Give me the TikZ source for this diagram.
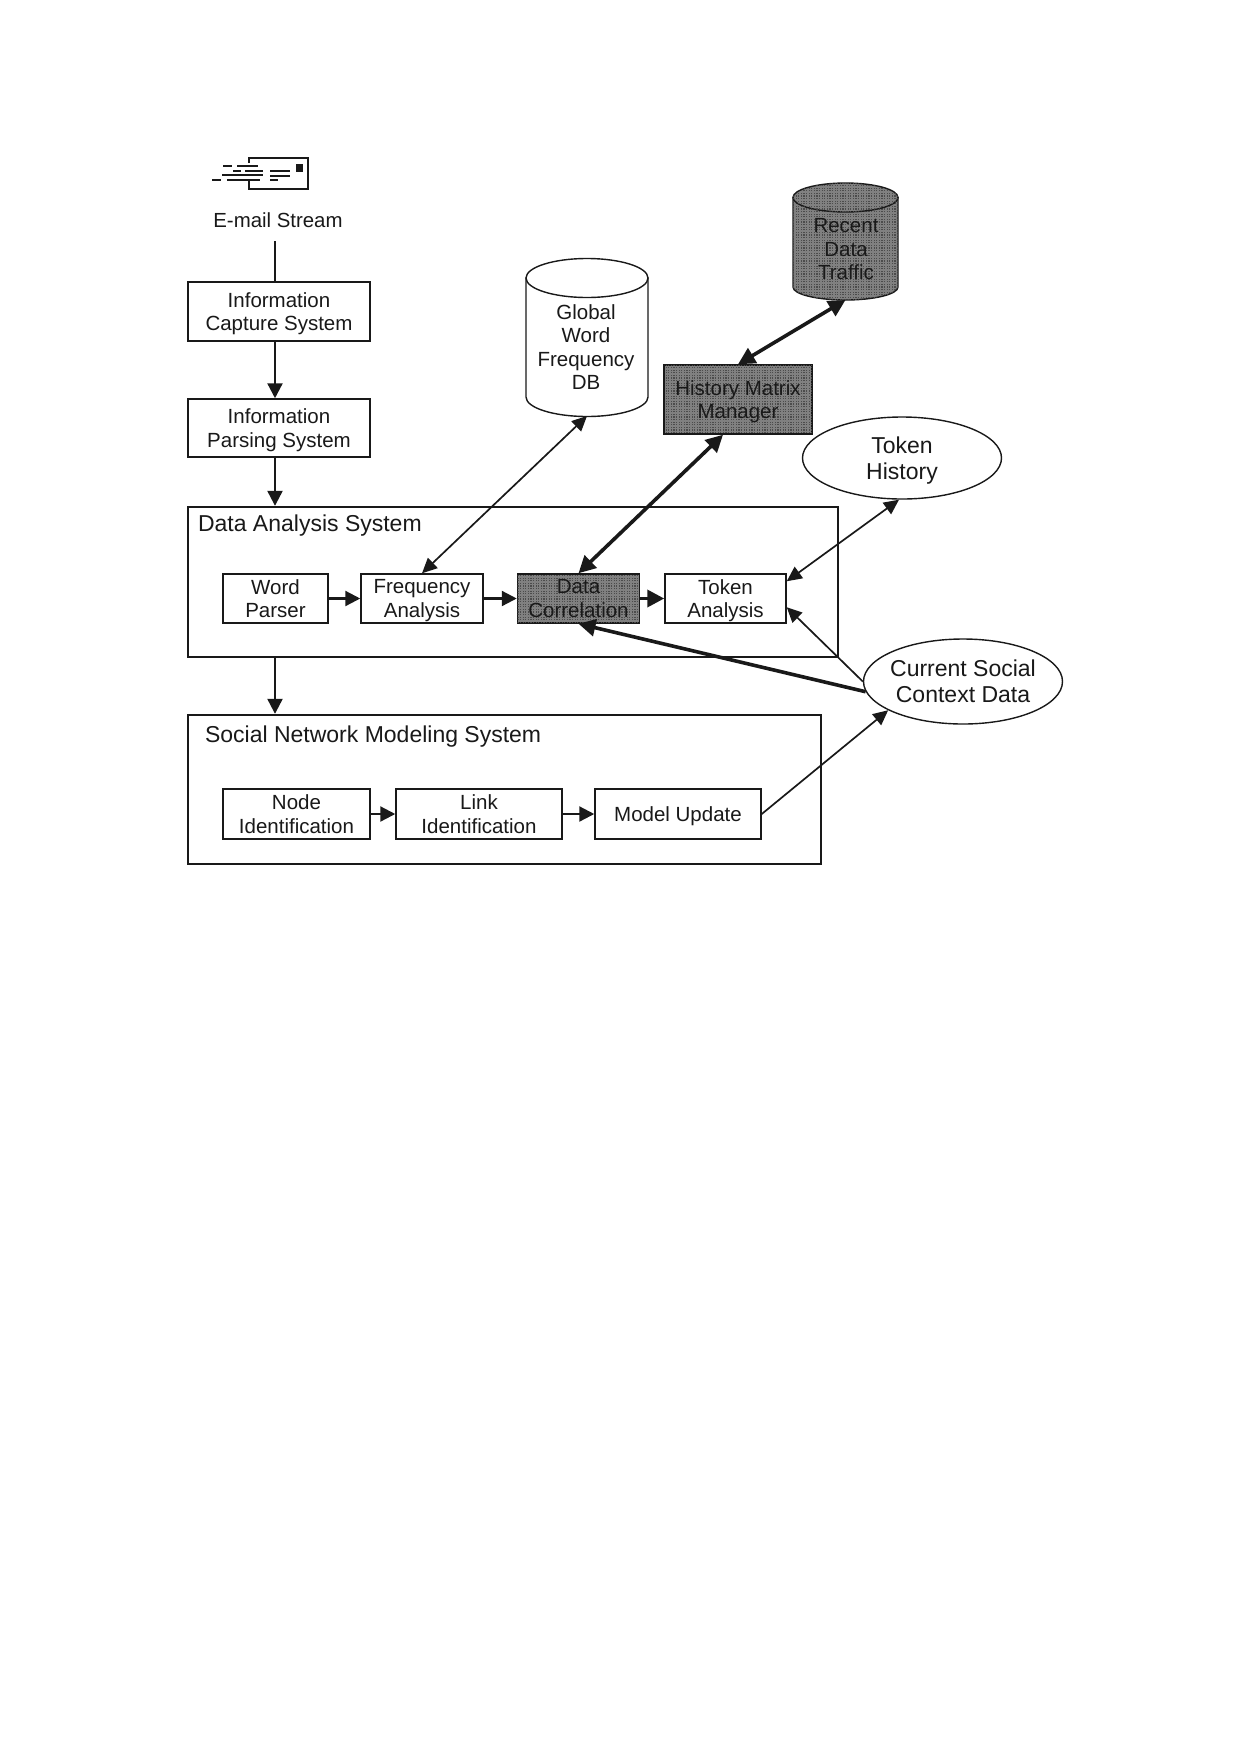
\documentclass[tikz,border=0pt]{standalone}
\usepackage{fontspec}
\setmainfont{Liberation Sans}
\usetikzlibrary{shapes.geometric,arrows.meta,patterns}
\definecolor{ink}{gray}{0.1}
\definecolor{shade}{gray}{0.5}
\pgfdeclarepatternformonly{ditherdots}{\pgfqpoint{-0.5pt}{-0.5pt}}{\pgfqpoint{3pt}{3pt}}{\pgfqpoint{2.6pt}{2.6pt}}{%
  \pgfpathrectangle{\pgfqpoint{0pt}{0pt}}{\pgfqpoint{1.1pt}{1.1pt}}\pgfusepath{fill}}
\tikzset{
  labeltext/.style={font=\fontsize{20.5}{23.5}\selectfont,text=ink,align=center,text depth=0pt},
  bigtext/.style={font=\fontsize{23}{26}\selectfont,text=ink,align=center,text depth=0pt},
  plainbox/.style={draw=ink,line width=1.5pt,fill=white,labeltext,inner sep=0pt},
  darkbox/.style={plainbox,fill=shade,postaction={pattern=ditherdots,pattern color=black!70}},
  framebox/.style={draw=ink,line width=2.4pt,inner sep=0pt},
  blob/.style={ellipse,draw=ink,line width=1.4pt,fill=white,inner sep=0pt},
  drumfootprint/.style={rectangle,inner sep=0pt,outer sep=0pt},
  drumline/.style={draw=ink,line width=1.4pt},
  darkdrum/.style={drumline,fill=shade,postaction={pattern=ditherdots,pattern color=black!70}},
  thin arrow/.style={draw=ink,line width=1.7pt,-{Triangle[length=15pt,width=14pt]}},
  flow arrow/.style={draw=ink,line width=2.3pt,-{Triangle[length=15pt,width=15pt]}},
  both thin/.style={draw=ink,line width=1.7pt,{Triangle[length=15pt,width=14pt]}-{Triangle[length=15pt,width=14pt]}},
  heavy arrow/.style={draw=ink,line width=3.6pt,-{Triangle[length=17pt,width=17pt]}},
  both heavy/.style={draw=ink,line width=3.6pt,{Triangle[length=17pt,width=17pt]}-{Triangle[length=17pt,width=17pt]}},
  mail/.style={draw=ink,line width=1.8pt},
}
\begin{document}
\begin{tikzpicture}[x=1pt,y=-1pt]
\useasboundingbox (0,0) rectangle (1241,1754);

% enclosing system frames
\node[framebox,minimum width=650pt,minimum height=150pt] (analysis) at (513,582) {};
\node[framebox,minimum width=633pt,minimum height=149pt] (social) at (504.5,789.5) {};
\node[bigtext,anchor=west] (analysistitle) at (194.5,523) {Data Analysis System};
\node[bigtext,anchor=west] (socialtitle) at (201.5,734) {Social Network Modeling System};

% e-mail icon
\draw[mail,line width=2pt] (249,163) -- (249,158) -- (308,158) -- (308,189) -- (249,189) -- (249,181);
\fill[ink] (296,164) rectangle (303,172);
\foreach \ya/\xa/\xb in {166/223/232,166/237/258,171/233/241,171/245/263,175/222/263,180/212/221,180/227/260,171/270/290,176/270/290,180/270/278}
  \draw[mail] (\xa,\ya) -- (\xb,\ya);
\node[labeltext,font=\fontsize{20.4}{23}\selectfont] (stream) at (278,220) {E-mail Stream};
\coordinate (streamfoot) at (275,241);

% pipeline boxes
\node[plainbox,minimum width=182pt,minimum height=59pt] (capture) at (279,311.5) {Information\\Capture System};
\node[plainbox,minimum width=182pt,minimum height=58pt] (parsing) at (279,428) {Information\\Parsing System};
\node[plainbox,minimum width=105pt,minimum height=49pt] (word) at (275.5,598.5) {Word\\Parser};
\node[plainbox,minimum width=122pt,minimum height=49pt] (freq) at (422,598.5) {Frequency\\Analysis};
\node[darkbox,minimum width=122pt,minimum height=49pt] (corr) at (578.5,598.5) {};
\node[labeltext] (corrlabel) at (corr.center) {Data\\Correlation};
\node[plainbox,minimum width=121pt,minimum height=49pt] (token) at (725.5,598.5) {Token\\Analysis};
\node[plainbox,minimum width=147pt,minimum height=50pt] (nodeid) at (296.5,814) {Node\\Identification};
\node[plainbox,minimum width=166pt,minimum height=50pt] (linkid) at (479,814) {Link\\Identification};
\node[plainbox,minimum width=166pt,minimum height=50pt] (update) at (678,814) {Model Update};
\node[darkbox,minimum width=148pt,minimum height=69pt] (history) at (738,399.5) {};
\node[labeltext] (historylabel) at (history.center) {History Matrix\\Manager};

% data stores: a footprint node for connectors, then body and lid
\node[drumfootprint,minimum width=122pt,minimum height=158pt] (global) at (587,337) {};
\draw[drumline,fill=white] (526,278) -- (526,397) arc[start angle=180,end angle=360,x radius=61pt,y radius=19.5pt] -- (648,278) -- cycle;
\draw[drumline,fill=white] (587,278) ellipse[x radius=61pt,y radius=19.5pt];
\node[labeltext] (globallabel) at (586,347) {Global\\Word\\Frequency\\DB};

\node[drumfootprint,minimum width=105pt,minimum height=117pt] (recent) at (845.5,241.5) {};
\draw[darkdrum] (793,197.5) -- (793,287) arc[start angle=180,end angle=360,x radius=52.5pt,y radius=13pt] -- (898,197.5) -- cycle;
\draw[darkdrum] (845.5,197.5) ellipse[x radius=52.5pt,y radius=14.5pt];
\node[labeltext] (recentlabel) at (846,249) {Recent\\Data\\Traffic};

% ellipses
\node[blob,minimum width=199pt,minimum height=82pt] (tokenhist) at (902,458) {};
\node[bigtext] (tokenhistlabel) at (tokenhist.center) {Token\\History};
\node[blob,minimum width=199pt,minimum height=85pt] (context) at (963,681.5) {};
\node[bigtext] (contextlabel) at (context.center) {Current Social\\Context Data};

% main flow
\draw[draw=ink,line width=1.6pt] (streamfoot) -- (streamfoot |- capture.north);
\draw[flow arrow] (capture.south -| streamfoot) -- (parsing.north -| streamfoot);
\draw[flow arrow] (parsing.south -| streamfoot) -- (analysis.north -| streamfoot);
\draw[flow arrow] (analysis.south -| streamfoot) -- (social.north -| streamfoot);

% flow inside the frames
\draw[flow arrow] (word) -- (freq);
\draw[flow arrow] (freq) -- (corr);
\draw[heavy arrow] (corr) -- (token);
\draw[flow arrow] (nodeid) -- (linkid);
\draw[flow arrow] (linkid) -- (update);

% links to stores and context
\draw[both thin] (freq.north) -- (global.south);
\draw[both heavy] (history.north) -- (recent.south);
\draw[both heavy] (corr.north) -- ([xshift=-15pt]history.south);
\draw[both thin] ([yshift=-8pt]token.north east) -- ([xshift=-3pt]tokenhist.south);
\draw[thin arrow] (context.west) -- ([yshift=-34pt]token.north east);
\draw[heavy arrow] (context.186) -- (corr.south);
\draw[thin arrow] (update.east) -- (context.201);
\end{tikzpicture}
\end{document}
